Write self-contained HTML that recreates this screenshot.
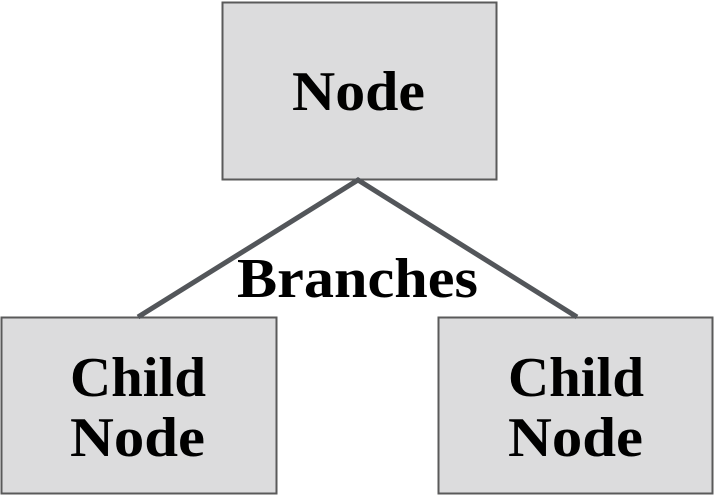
<!DOCTYPE html>
<html><head><meta charset="utf-8"><style>
html,body{margin:0;padding:0;background:#fff;}
svg{display:block;}
text{font-family:"Liberation Serif",serif;font-weight:bold;fill:#000;font-size:56px;}
</style></head><body>
<svg width="714" height="495" viewBox="0 0 714 495">
<rect x="222.5" y="2.5" width="274" height="177" fill="#dcdcdd" stroke="#5a5a5a" stroke-width="2"/>
<rect x="1.5" y="317.5" width="275" height="176" fill="#dcdcdd" stroke="#5a5a5a" stroke-width="2"/>
<rect x="438.5" y="317.5" width="274" height="176" fill="#dcdcdd" stroke="#5a5a5a" stroke-width="2"/>
<polyline points="138,317 358,180 577,317" fill="none" stroke="#53565a" stroke-width="5"/>
<text x="292" y="110" textLength="133" lengthAdjust="spacingAndGlyphs">Node</text>
<text x="237" y="297" textLength="241" lengthAdjust="spacingAndGlyphs">Branches</text>
<text x="70" y="396" textLength="136" lengthAdjust="spacingAndGlyphs">Child</text>
<text x="70" y="456" textLength="135" lengthAdjust="spacingAndGlyphs">Node</text>
<text x="508" y="396" textLength="136" lengthAdjust="spacingAndGlyphs">Child</text>
<text x="508" y="456" textLength="135" lengthAdjust="spacingAndGlyphs">Node</text>
</svg>
</body></html>
